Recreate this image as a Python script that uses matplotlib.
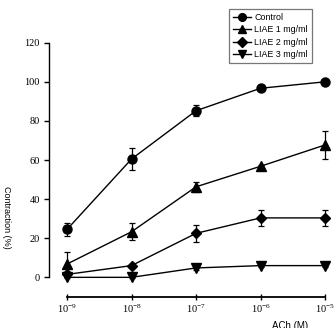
import matplotlib
matplotlib.use("Agg")
import matplotlib.pyplot as plt
from matplotlib.lines import Line2D

plt.rcParams['mathtext.fontset'] = 'custom'
plt.rcParams['mathtext.rm'] = 'Liberation Serif'

conc = [1e-9, 1e-8, 1e-7, 1e-6, 1e-5]
xtick_labels = [r'$\mathregular{10^{-9}}$', r'$\mathregular{10^{-8}}$', r'$\mathregular{10^{-7}}$',
                r'$\mathregular{10^{-6}}$', r'$\mathregular{10^{-5}}$']
series_names = ['Control', 'LIAE 1 mg/ml', 'LIAE 2 mg/ml', 'LIAE 3 mg/ml']
control = [24.5, 60.5, 85.2, 96.7, 100.0]
control_err = [3.5, 5.6, 2.7, 0.8, 0.4]
liae1 = [6.8, 23.3, 46.3, 56.8, 67.7]
liae1_err = [6.0, 4.4, 2.5, 0.8, 7.0]
liae2 = [1.5, 6.0, 22.5, 30.4, 30.4]
liae2_err = [1.0, 0.8, 4.3, 4.0, 4.0]
liae3 = [0.0, 0.0, 4.8, 6.0, 6.0]
liae3_err = [0.5, 0.5, 1.0, 0.5, 0.5]
yticks = [0, 20, 40, 60, 80, 100, 120]

fig = plt.figure(figsize=(3.36, 3.28), dpi=100)
ax = fig.add_axes([49/336, 1-296.5/328, 281/336, (296.5-38.8)/328])

markers = ['o', '^', 'D', 'v']
sizes = [6.5, 6.5, 5.5, 6.5]
datas = [(control, control_err), (liae1, liae1_err), (liae2, liae2_err), (liae3, liae3_err)]
handles = []
for (vals, errs), m, ms, name in zip(datas, markers, sizes, series_names):
    ax.errorbar(conc, vals, yerr=errs, color='black', marker=m, markersize=ms,
                linewidth=1.0, elinewidth=0.9, capsize=2.2, capthick=0.9)
    handles.append(Line2D([], [], color='black', marker=m, markersize=ms * 0.85,
                          linewidth=1.0, label=name))

ax.set_xscale('log')
ax.set_xlim(10**-9.279, 10**-4.923)
ax.set_ylim(-9.8, 122)
ax.set_xticks(conc)
ax.set_xticklabels(xtick_labels)
ax.minorticks_off()
ax.set_yticks(yticks)
ax.spines['top'].set_visible(False)
ax.spines['right'].set_visible(False)
ax.spines['left'].set_bounds(0, 120)
ax.spines['bottom'].set_bounds(1e-9, 1e-5)
ax.spines['left'].set_linewidth(1.0)
ax.spines['bottom'].set_linewidth(1.3)
ax.tick_params(axis='y', direction='out', length=3.5, width=1.0, pad=3, labelsize=7.5)
ax.tick_params(axis='x', direction='inout', length=5, width=1.0, pad=2, labelsize=7.5)
for lab in ax.get_yticklabels() + ax.get_xticklabels():
    lab.set_fontfamily('Liberation Serif')

leg = fig.legend(handles=handles, loc='upper right', bbox_to_anchor=(312/336, 1-9/328),
                 prop={'family': 'Liberation Sans', 'size': 6.4}, frameon=True, fancybox=False,
                 borderaxespad=0, handlelength=2.0, handletextpad=0.45, labelspacing=0.38,
                 borderpad=0.45)
leg.get_frame().set_edgecolor('#555555')
leg.get_frame().set_linewidth(0.9)

fig.text(290/336, 1-321/328, 'ACh (M)', ha='center', va='top', family='Liberation Sans', fontsize=7)
fig.text(6/336, 1-217/328, 'Contraction (%)', ha='center', va='center', rotation=270,
         family='Liberation Sans', fontsize=6.5)

fig.savefig('out.png', dpi=100)
